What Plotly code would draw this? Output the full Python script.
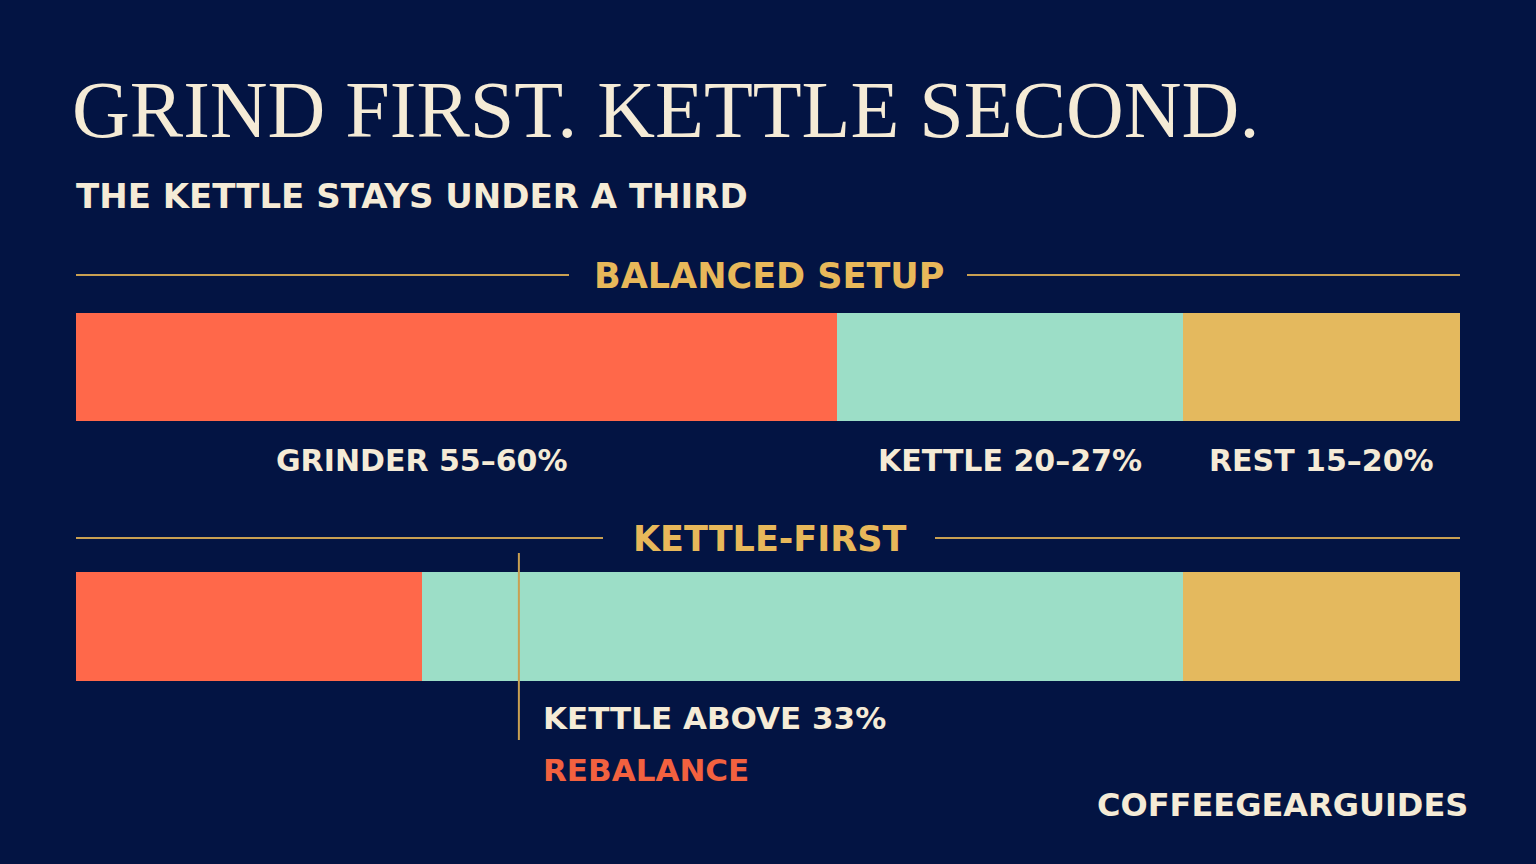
import plotly.graph_objects as go

# ---- data ----
setups = ["BALANCED SETUP", "KETTLE-FIRST"]
segments = ["GRINDER", "KETTLE", "REST"]
balanced = [55, 25, 20]
kettle_first = [25, 55, 20]
range_labels = ["55–60%", "20–27%", "15–20%"]
threshold_pos = 32
threshold_label = "KETTLE ABOVE 33%"
action_label = "REBALANCE"

title = "GRIND FIRST. KETTLE SECOND."
subtitle = "THE KETTLE STAYS UNDER A THIRD"
credit = "COFFEEGEARGUIDES"

# ---- style ----
W, H = 1536, 864
BG = "#031443"
CREAM = "#F5EBD6"
GOLD = "#E8B85A"
RULE = "#C9A052"
colors = ["#FF684A", "#9CDEC7", "#E4B95E"]
SANS = "DejaVu Sans"
SERIF = "Liberation Serif"

def py(p):
    return 1 - p / H

def px(p):
    return p / W

fig = go.Figure()
for i, seg in enumerate(segments):
    fig.add_trace(go.Bar(
        orientation="h",
        y=setups,
        x=[balanced[i], kettle_first[i]],
        name=seg,
        marker=dict(color=colors[i], line=dict(width=0)),
        width=0.418,
        hoverinfo="skip",
        showlegend=False,
    ))

ann = []
ann.append(dict(text=title, x=px(70), y=py(110), xref="paper", yref="paper",
                xanchor="left", yanchor="middle", showarrow=False,
                font=dict(family=SERIF, size=80, color=CREAM)))
ann.append(dict(text=subtitle, x=px(74), y=py(196), xref="paper", yref="paper",
                xanchor="left", yanchor="middle", showarrow=False,
                font=dict(family=SANS, size=34, color=CREAM, weight="bold")))

# section headers
header_y = [276, 539]
for name, yy in zip(setups, header_y):
    ann.append(dict(text=name, x=px(769), y=py(yy), xref="paper", yref="paper",
                    xanchor="center", yanchor="middle", showarrow=False,
                    font=dict(family=SANS, size=35, color=GOLD, weight="bold")))

# segment labels under balanced bar (centred on segments)
cum = 0
shifts = [-35, 0, 0]
for i, seg in enumerate(segments):
    center = cum + balanced[i] / 2
    cum += balanced[i]
    ann.append(dict(text=f"{seg} {range_labels[i]}", x=center, y=py(461), xref="x", yref="paper",
                    xanchor="center", yanchor="middle", showarrow=False, xshift=shifts[i],
                    font=dict(family=SANS, size=30, color=CREAM, weight="bold")))

ann.append(dict(text=threshold_label, x=px(541), y=py(718), xref="paper", yref="paper",
                xanchor="left", yanchor="middle", showarrow=False,
                font=dict(family=SANS, size=31, color=CREAM, weight="bold")))
ann.append(dict(text=action_label, x=px(541), y=py(770), xref="paper", yref="paper",
                xanchor="left", yanchor="middle", showarrow=False,
                font=dict(family=SANS, size=31, color="#F2613F", weight="bold")))
ann.append(dict(text=credit, x=px(1470), y=py(805), xref="paper", yref="paper",
                xanchor="right", yanchor="middle", showarrow=False,
                font=dict(family=SANS, size=32, color=CREAM, weight="bold")))

shapes = []
for (x0, x1, yy) in [(76, 569, 275), (967, 1460, 275), (76, 603, 538), (935, 1460, 538)]:
    shapes.append(dict(type="line", xref="paper", yref="paper",
                       x0=px(x0), x1=px(x1), y0=py(yy), y1=py(yy),
                       line=dict(color=RULE, width=2)))
shapes.append(dict(type="line", xref="x", yref="paper",
                   x0=threshold_pos, x1=threshold_pos, y0=py(553), y1=py(740),
                   line=dict(color=RULE, width=2)))

# y axis: category 0 centred at pixel 367, spacing 259.5 px
unit = 259.5
c0 = 367
fig.update_layout(
    width=W, height=H,
    paper_bgcolor=BG, plot_bgcolor=BG,
    margin=dict(l=0, r=0, t=0, b=0),
    barmode="stack", bargap=0,
    xaxis=dict(domain=[px(76), px(1460)], range=[0, 100], visible=False, fixedrange=True),
    yaxis=dict(domain=[0, 1], range=[(H - c0) / unit, -c0 / unit], visible=False, fixedrange=True),
    annotations=ann,
    shapes=shapes,
)

fig.write_html("out.html", config={"displayModeBar": False},
               post_script="document.body.style.margin='0';document.body.style.background='#031443';document.body.style.overflow='hidden';")
